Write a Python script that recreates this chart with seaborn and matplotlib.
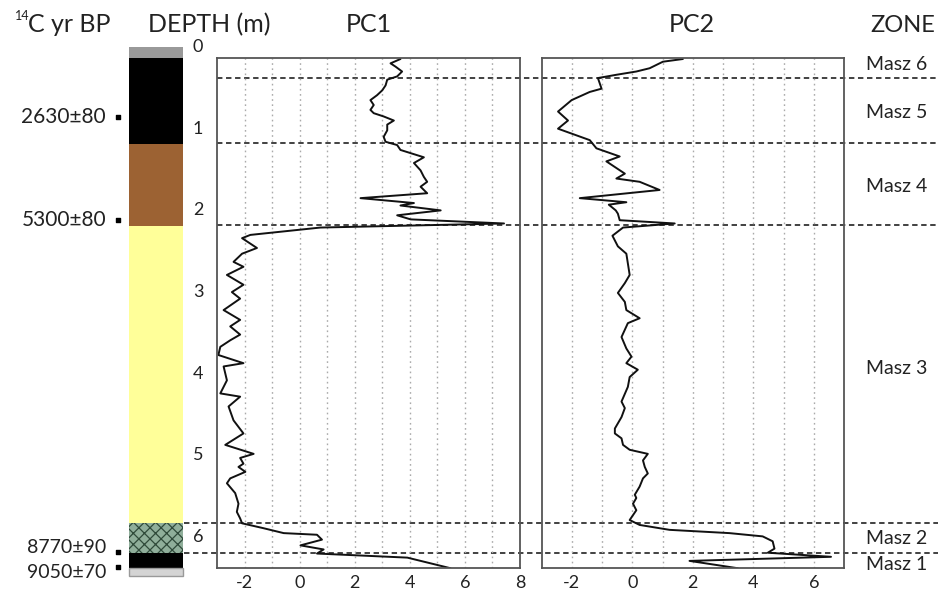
import matplotlib
matplotlib.use("Agg")
import matplotlib.pyplot as plt
from matplotlib.ticker import MultipleLocator, FixedLocator
import seaborn as sns
import pandas as pd

# ---------------- data ----------------
pc1_depth = [0.147, 0.20, 0.24, 0.30, 0.36, 0.40, 0.47, 0.53, 0.59, 0.65, 0.71, 0.77, 0.81, 0.85,
             0.90, 0.95, 1.02, 1.10, 1.16, 1.20, 1.26, 1.35, 1.42, 1.51, 1.59, 1.65, 1.71, 1.79,
             1.85, 1.91, 1.94, 2.00, 2.06, 2.11, 2.16, 2.21, 2.30, 2.34, 2.46, 2.53, 2.63, 2.69,
             2.79, 2.91, 3.00, 3.08, 3.22, 3.34, 3.42, 3.52, 3.59, 3.67, 3.77, 3.87, 3.91, 4.08,
             4.24, 4.28, 4.40, 4.57, 4.73, 4.87, 4.98, 5.03, 5.10, 5.14, 5.20, 5.28, 5.34, 5.46,
             5.59, 5.69, 5.77, 5.83, 5.89, 5.95, 5.97, 6.03, 6.10, 6.15, 6.20, 6.25, 6.38]
pc1_value = [3.66, 3.30, 3.48, 3.72, 3.54, 3.18, 3.12, 3.00, 2.81, 2.57, 2.69, 2.57, 2.69, 3.05,
             3.42, 3.18, 3.18, 3.05, 3.12, 3.54, 3.66, 4.51, 4.15, 4.39, 4.51, 4.63, 4.39, 4.63,
             2.21, 4.15, 3.66, 5.12, 3.54, 4.03, 7.42, 0.75, -1.79, -2.09, -1.55, -2.09, -2.40, -2.04,
             -2.64, -2.04, -2.46, -2.16, -2.76, -2.16, -2.52, -2.16, -2.52, -2.88, -2.95, -2.04, -2.76, -2.64,
             -2.88, -2.16, -2.58, -2.40, -2.04, -2.70, -1.67, -2.16, -2.04, -2.22, -1.97, -2.52, -2.64, -2.34,
             -2.22, -2.28, -2.16, -2.09, -1.31, -0.58, 0.63, 0.81, 0.03, 0.87, 0.63, 3.91, 5.48]

pc2_depth = [0.147, 0.18, 0.26, 0.30, 0.34, 0.38, 0.51, 0.55, 0.65, 0.79, 0.90, 1.00, 1.06, 1.14,
             1.24, 1.34, 1.40, 1.55, 1.61, 1.65, 1.75, 1.85, 1.90, 1.93, 2.00, 2.04, 2.12, 2.16,
             2.21, 2.31, 2.44, 2.53, 2.79, 2.89, 3.01, 3.12, 3.22, 3.32, 3.38, 3.55, 3.69, 3.79,
             3.87, 3.95, 4.04, 4.16, 4.34, 4.42, 4.53, 4.67, 4.73, 4.79, 4.87, 4.93, 4.98, 5.06,
             5.14, 5.22, 5.28, 5.38, 5.48, 5.52, 5.59, 5.67, 5.79, 5.85, 5.91, 5.95, 5.99, 6.05,
             6.14, 6.19, 6.24, 6.29, 6.38]
pc2_value = [1.67, 1.01, 0.57, 0.13, -0.53, -1.14, -1.02, -1.41, -2.01, -2.46, -2.13, -2.46, -2.01, -1.41,
             -1.19, -0.42, -0.86, -0.25, -0.53, 0.24, 0.90, -1.74, -0.20, -0.78, -0.55, -0.48, -0.42, 1.40,
             -0.31, -0.66, -0.48, -0.20, -0.09, -0.25, -0.48, -0.25, -0.20, 0.24, -0.15, -0.36, -0.20, -0.03,
             -0.20, 0.18, -0.09, -0.15, -0.36, -0.25, -0.36, -0.58, -0.58, -0.36, -0.31, -0.09, 0.51, 0.35,
             0.41, 0.51, 0.35, 0.24, 0.08, 0.13, 0.02, 0.13, -0.09, 0.24, 1.23, 3.21, 4.31, 4.64,
             4.70, 4.48, 6.57, 1.89, 3.49]

litho_top = [0.00, 0.13, 1.19, 2.19, 5.83, 6.19, 6.38]
litho_bottom = [0.13, 1.19, 2.19, 5.83, 6.19, 6.38, 6.47]
litho_color = ["#999999", "#000000", "#9c6233", "#ffff99", "#8fae9a", "#000000", "#d4d4d4"]

zone_bounds = [0.38, 1.18, 2.18, 5.83, 6.19]
zone_names = ["Masz 6", "Masz 5", "Masz 4", "Masz 3", "Masz 2", "Masz 1"]
zone_label_depth = [0.22, 0.80, 1.71, 3.93, 6.01, 6.33]

age_labels = ["2630±80", "5300±80", "8770±90", "9050±70"]
age_depth = [0.86, 2.12, 6.18, 6.37]
age_label_depth = [0.86, 2.12, 6.13, 6.43]

depth_ticks = [0, 1, 2, 3, 4, 5, 6]
pc1_ticks = [-2, 0, 2, 4, 6, 8]
pc2_ticks = [-2, 0, 2, 4, 6]

# ---------------- style ----------------
sns.set_style("white")
plt.rcParams["font.family"] = ["Lato", "DejaVu Sans"]
plt.rcParams["hatch.linewidth"] = 0.9
plt.rcParams["axes.unicode_minus"] = False

W, H = 938, 597
fig = plt.figure(figsize=(W / 100, H / 100), dpi=100)

y_top_px, y_bot_px = 58, 568
b = 1 - y_bot_px / H
h = (y_bot_px - y_top_px) / H
depth_top, depth_bot = (58 - 47) / 81.7, (568 - 47) / 81.7

# background axes spanning full width, in pixel x / depth y
ax_bg = fig.add_axes([0, b, 1, h], zorder=0)
ax_bg.set_xlim(0, W)
ax_bg.set_ylim(depth_bot, depth_top)
ax_bg.axis("off")

# lithology column
thick = [bt - tp for tp, bt in zip(litho_top, litho_bottom)]
bars = ax_bg.bar(x=[156] * len(litho_top), height=thick, bottom=litho_top, width=53.4,
                 color=litho_color, edgecolor="none", linewidth=0)
for i, p in enumerate(bars.patches):
    p.set_clip_on(False)
    if i == 4:
        p.set_hatch("xxx")
        p.set_edgecolor("#2f4a3a")
        p.set_linewidth(0)
    if i == 6:
        p.set_edgecolor("#999999")
        p.set_linewidth(1.0)

# depth labels
for d in depth_ticks:
    ax_bg.text(198, d, str(d), ha="center", va="center", fontsize=13, color="#222222", clip_on=False)

# ages
for i, (lab, d) in enumerate(zip(age_labels, age_label_depth)):
    fs = 15 if i < 2 else 14
    ax_bg.text(106, d, lab, ha="right", va="center", fontsize=fs, color="#222222", clip_on=False)
ax_bg.scatter([118] * len(age_depth), age_depth, marker="s", s=7, color="black", clip_on=False)

# zone boundaries
xmins = [217, 217, 217, 184, 184]
ax_bg.hlines(zone_bounds, xmins, W, colors="#333333", linestyles=(0, (3, 2)), linewidth=1.3)
for name, d in zip(zone_names, zone_label_depth):
    ax_bg.text(897, d, name, ha="center", va="center", fontsize=14, color="#222222", clip_on=False)


def style_panel(ax, xlim, ticks):
    ax.set_xlim(*xlim)
    ax.set_ylim(depth_bot, depth_top)
    ax.patch.set_alpha(0)
    ax.xaxis.set_major_locator(FixedLocator(ticks))
    ax.xaxis.set_minor_locator(MultipleLocator(1))
    ax.set_yticks([])
    ax.grid(False)
    for x in range(int(xlim[0]) + 1, int(xlim[1])):
        ax.axvline(x, color="#aaaaaa", linestyle=(0, (1.2, 2.5)), linewidth=1.0, zorder=0.5)
    ax.tick_params(axis="x", which="both", length=0, pad=5, labelsize=13, labelcolor="#222222")
    ax.set_xlabel("")
    ax.set_ylabel("")
    for s in ax.spines.values():
        s.set_color("#555555")
        s.set_linewidth(1.3)
        s.set_visible(True)


# PC1
ax1 = fig.add_axes([217 / W, b, (520 - 217) / W, h], zorder=1)
df1 = pd.DataFrame({"depth": pc1_depth, "PC1": pc1_value})
sns.lineplot(data=df1, x="PC1", y="depth", orient="y", sort=False, estimator=None,
             color="#111111", linewidth=1.4, ax=ax1)
style_panel(ax1, (-3, 8), pc1_ticks)

# PC2
ax2 = fig.add_axes([541.7 / W, b, (844 - 541.7) / W, h], zorder=1)
df2 = pd.DataFrame({"depth": pc2_depth, "PC2": pc2_value})
sns.lineplot(data=df2, x="PC2", y="depth", orient="y", sort=False, estimator=None,
             color="#111111", linewidth=1.4, ax=ax2)
style_panel(ax2, (-3, 7), pc2_ticks)

# headers
def fy(px):
    return 1 - px / H

fig.text(369 / W, fy(25), "PC1", ha="center", va="center", fontsize=18, color="#222222")
fig.text(692 / W, fy(25), "PC2", ha="center", va="center", fontsize=18, color="#222222")
fig.text(209 / W, fy(25), "DEPTH (m)", ha="center", va="center", fontsize=18, color="#222222")
fig.text(903 / W, fy(25), "ZONE", ha="center", va="center", fontsize=17, color="#222222")
fig.text(15 / W, fy(16), "14", ha="left", va="center", fontsize=9, color="#222222")
fig.text(28 / W, fy(25), "C yr BP", ha="left", va="center", fontsize=18, color="#222222")

fig.savefig("out.png", dpi=100)
